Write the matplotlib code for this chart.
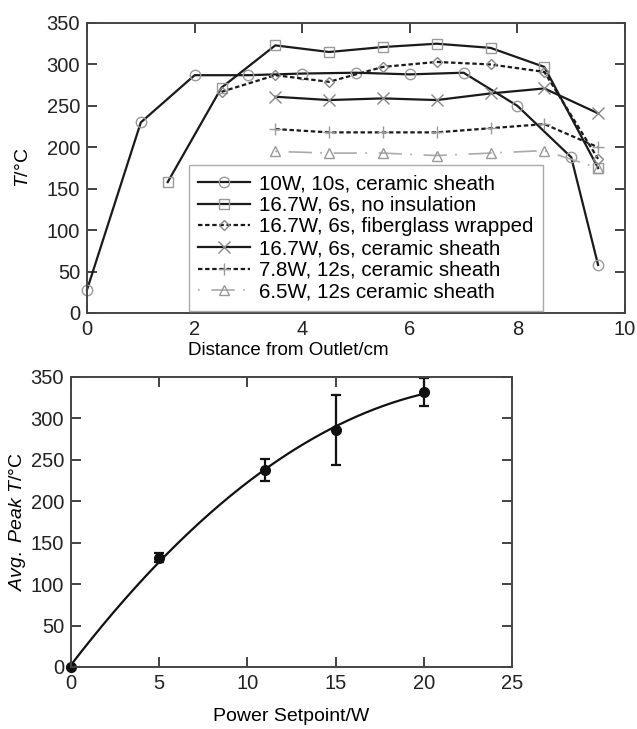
import matplotlib
matplotlib.use('Agg')
import matplotlib.pyplot as plt
import numpy as np

plt.rcParams['font.family'] = ['Liberation Sans', 'DejaVu Sans']
plt.rcParams['mathtext.fontset'] = 'custom'
plt.rcParams['mathtext.rm'] = 'Liberation Sans'
plt.rcParams['mathtext.it'] = 'Liberation Sans:italic'

# 上图: 温度沿出口距离分布
x_10w = [0, 1, 2, 3, 4, 5, 6, 7, 8, 9, 9.5]
t_10w = [28, 230, 287, 287, 289, 290, 288, 290, 250, 188, 58]
x_half = [1.5, 2.5, 3.5, 4.5, 5.5, 6.5, 7.5, 8.5, 9.5]
t_noins = [158, 272, 323, 315, 321, 325, 320, 297, 175]
x_fiber = [2.5, 3.5, 4.5, 5.5, 6.5, 7.5, 8.5, 9.5]
t_fiber = [267, 287, 279, 297, 303, 300, 291, 186]
x_short = [3.5, 4.5, 5.5, 6.5, 7.5, 8.5, 9.5]
t_167cer = [261, 257, 259, 257, 265, 271, 241]
t_78w = [222, 218, 218, 218, 223, 228, 200]
t_65w = [195, 193, 193, 190, 193, 196, 175]
labels = ['10W, 10s, ceramic sheath', '16.7W, 6s, no insulation',
          '16.7W, 6s, fiberglass wrapped', '16.7W, 6s, ceramic sheath',
          '7.8W, 12s, ceramic sheath', '6.5W, 12s ceramic sheath']

# 下图: 平均峰值温度 vs 功率
power = [0, 5, 11, 15, 20]
peak = [0, 132, 238, 286, 332]
err_lo = [0, 5.5, 13, 42, 16.5]
err_hi = [0, 5.5, 13, 42, 16.5]

fig = plt.figure(figsize=(6.37, 7.29), dpi=100)
ax1 = fig.add_axes([87/637, (729-313)/729, 538/637, 290/729])
ax2 = fig.add_axes([71/637, (729-667)/729, 441/637, 290/729])

mk = dict(markersize=7.5, markerfacecolor='none', markeredgecolor='#999999', markeredgewidth=1.0)
lw = 1.6
ax1.plot(x_10w, t_10w, '-', color='#1a1a1a', lw=lw, marker='o', label=labels[0], **mk)
ax1.plot(x_half, t_noins, '-', color='#1a1a1a', lw=lw, marker='s', label=labels[1], **mk)
ax1.plot(x_fiber, t_fiber, color='#1a1a1a', lw=lw, ls=(0, (2, 1.2)), marker='D',
         label=labels[2], markersize=5, markerfacecolor='none', markeredgecolor='#888888')
ax1.plot(x_short, t_167cer, '-', color='#1a1a1a', lw=lw, marker='x', label=labels[3],
         markersize=8, markeredgecolor='#888888', markeredgewidth=1.0)
ax1.plot(x_short, t_78w, color='#1a1a1a', lw=lw, ls=(0, (2, 1.2)), marker='+', label=labels[4],
         markersize=9, markeredgecolor='#999999', markeredgewidth=1.0)
ax1.plot(x_short, t_65w, color='#aaaaaa', lw=1.2, ls=(0, (1, 7, 14, 5)), marker='^', label=labels[5],
         markersize=7, markerfacecolor='none', markeredgecolor='#999999', markeredgewidth=1.0)

ax1.set_xlim(0, 10)
ax1.set_ylim(0, 350)
ax1.set_xticks(np.arange(0, 11, 2))
ax1.set_yticks(np.arange(0, 351, 50))
ax1.set_xlabel('Distance from Outlet/cm', fontsize=13.5)
ax1.xaxis.set_label_coords(0.374, -0.1)
ax1.set_ylabel(r'$\it{T}$/°C', fontsize=14)
ax1.yaxis.set_label_coords(-0.102, 0.5)
leg = ax1.legend(loc='lower left', bbox_to_anchor=(0.19, 0.008), borderaxespad=0,
                 fontsize=14.8, frameon=True, fancybox=False, edgecolor='#aaaaaa',
                 handlelength=2.5, handletextpad=0.45, labelspacing=0.13, borderpad=0.45,
                 framealpha=1)
leg.get_frame().set_linewidth(1.0)

# 二次拟合曲线
coef = np.polyfit(power, peak, 2)
xs = np.linspace(0, 20, 200)
ax2.plot(xs, np.polyval(coef, xs), '-', color='#111111', lw=1.6)
ax2.errorbar(power, peak, yerr=[err_lo, err_hi], fmt='o', color='#111111', markersize=7,
             capsize=3.5, elinewidth=1.6, capthick=1.6)
ax2.set_xlim(0, 25)
ax2.set_ylim(0, 350)
ax2.set_xticks(np.arange(0, 26, 5))
ax2.set_yticks(np.arange(0, 351, 50))
ax2.set_xlabel('Power Setpoint/W', fontsize=14, labelpad=11)
ax2.set_ylabel(r'$\it{Avg.\ Peak\ T}$/°C', fontsize=14)
ax2.yaxis.set_label_coords(-0.098, 0.5)

for ax in (ax1, ax2):
    ax.tick_params(direction='in', top=True, right=True, length=7, width=1.2,
                   labelsize=14.5, colors='#222222', pad=5)
    for s in ax.spines.values():
        s.set_linewidth(1.4)
        s.set_color('#444444')
for line in ax1.lines:
    line.set_clip_on(False)
for line in ax2.lines:
    line.set_clip_on(False)

plt.savefig('out.png', dpi=100, facecolor='white')
